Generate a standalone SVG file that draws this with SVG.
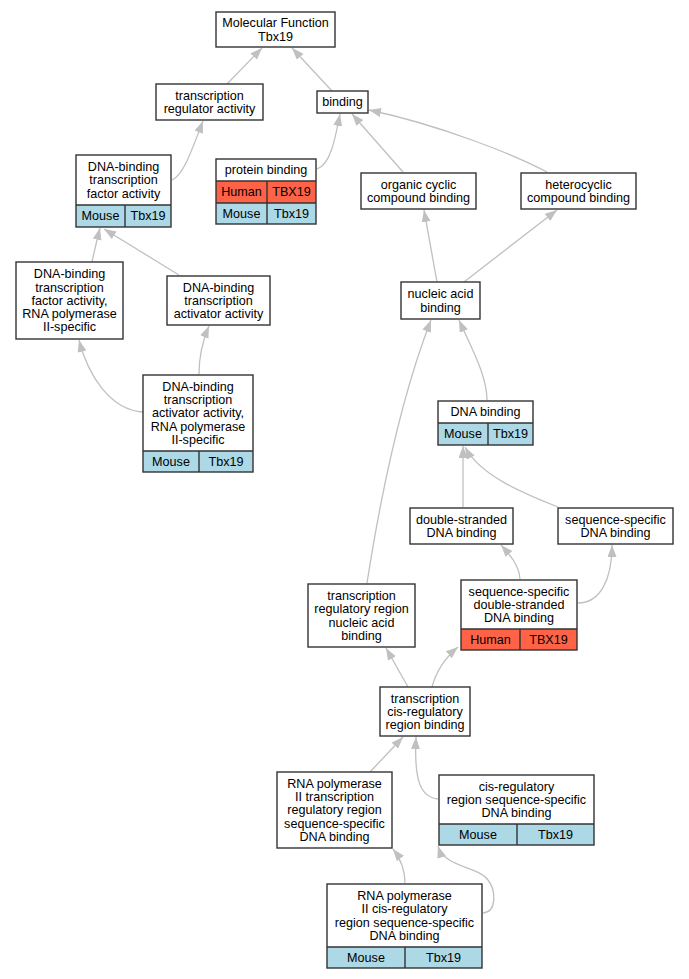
<svg xmlns="http://www.w3.org/2000/svg" width="689" height="979" viewBox="0 0 689 979">
<defs>
<style>
text{font-family:"Liberation Sans",Arial,sans-serif;font-size:12.6px;fill:#000;text-anchor:middle}
.b{fill:#fff;stroke:none}
.o{fill:none;stroke:#333;stroke-width:1.4}
.m{fill:#add8e6;stroke:none}
.h{fill:#ff6347;stroke:none}
.d{stroke:#333;stroke-width:1.4}
.e{fill:none;stroke:#c0c0c0;stroke-width:1.3;marker-end:url(#a)}
</style>
<marker id="a" markerUnits="userSpaceOnUse" markerWidth="13" markerHeight="10" refX="12" refY="4.5" orient="auto"><path d="M0,0 L12,4.5 L0,9 z" fill="#c0c0c0"/></marker>
</defs>
<rect width="689" height="979" fill="#fff"/>
<g id="edges">
<path class="e" d="M227,84 L262,48"/>
<path class="e" d="M332,91 L292,48"/>
<path class="e" d="M172,180 C183,175 190,155 203,121"/>
<path class="e" d="M317,169 C330,165 335,140 340,114"/>
<path class="e" d="M403,172 L352,114"/>
<path class="e" d="M547,172 C515,155 440,125 369,110"/>
<path class="e" d="M437,282 L424,210"/>
<path class="e" d="M464,282 L557,210"/>
<path class="e" d="M92,262 C94,252 97,240 100,228"/>
<path class="e" d="M179,275 L104,229"/>
<path class="e" d="M143,412 C110,410 88,375 79,340"/>
<path class="e" d="M199,374 C199,355 203,340 209,326"/>
<path class="e" d="M487,400 C487,375 470,345 459,320"/>
<path class="e" d="M367,583 C380,500 400,400 431,320"/>
<path class="e" d="M463,507 L463,446"/>
<path class="e" d="M558,507 C520,492 480,475 465,447"/>
<path class="e" d="M520,579 C519,565 510,555 501,545"/>
<path class="e" d="M578,603 C600,603 612,580 612,545"/>
<path class="e" d="M408,687 L386,648"/>
<path class="e" d="M432,687 C436,672 445,658 458,647"/>
<path class="e" d="M370,772 L403,737"/>
<path class="e" d="M438,799 C420,797 414,780 416,737"/>
<path class="e" d="M405,883 C405,870 400,858 393,849"/>
<path class="e" d="M483,913 C497,912 496,890 488,880 C478,866 445,868 438,846"/>
</g>
<g id="n1"><rect class="b" x="216" y="12" width="119" height="35"/><rect class="o" x="216" y="12" width="119" height="35"/><text x="275.5" y="27.2">Molecular Function</text><text x="275.5" y="40.5">Tbx19</text></g>
<g id="n2"><rect class="b" x="156" y="84" width="107" height="36"/><rect class="o" x="156" y="84" width="107" height="36"/><text x="209.5" y="99.7">transcription</text><text x="209.5" y="113">regulator activity</text></g>
<g id="n3"><rect class="b" x="317" y="91" width="51" height="22"/><rect class="o" x="317" y="91" width="51" height="22"/><text x="342.5" y="106.3">binding</text></g>
<g id="n4"><rect class="b" x="76" y="155" width="95" height="50"/><rect class="m" x="76" y="205" width="95" height="22"/><line class="d" x1="76" y1="205" x2="171" y2="205"/><line class="d" x1="125" y1="205" x2="125" y2="227"/><rect class="o" x="76" y="155" width="95" height="72"/><text x="123.5" y="171">DNA-binding</text><text x="123.5" y="184.3">transcription</text><text x="123.5" y="197.6">factor activity</text><text x="100.5" y="220.3">Mouse</text><text x="148" y="220.3">Tbx19</text></g>
<g id="n5"><rect class="b" x="216" y="159" width="100" height="22"/><rect class="h" x="216" y="181" width="100" height="22"/><rect class="m" x="216" y="203" width="100" height="21"/><line class="d" x1="216" y1="181" x2="316" y2="181"/><line class="d" x1="216" y1="203" x2="316" y2="203"/><line class="d" x1="267" y1="181" x2="267" y2="224"/><rect class="o" x="216" y="159" width="100" height="65"/><text x="266" y="174.3">protein binding</text><text x="241.5" y="196.3">Human</text><text x="291.5" y="196.3">TBX19</text><text x="241.5" y="217.8">Mouse</text><text x="291.5" y="217.8">Tbx19</text></g>
<g id="n6"><rect class="b" x="361" y="173" width="115" height="36"/><rect class="o" x="361" y="173" width="115" height="36"/><text x="418.5" y="188.7">organic cyclic</text><text x="418.5" y="202">compound binding</text></g>
<g id="n7"><rect class="b" x="521" y="173" width="115" height="36"/><rect class="o" x="521" y="173" width="115" height="36"/><text x="578.5" y="188.7">heterocyclic</text><text x="578.5" y="202">compound binding</text></g>
<g id="n8"><rect class="b" x="401" y="282" width="79" height="37"/><rect class="o" x="401" y="282" width="79" height="37"/><text x="440.5" y="298.2">nucleic acid</text><text x="440.5" y="311.5">binding</text></g>
<g id="n9"><rect class="b" x="16" y="262" width="107" height="77"/><rect class="o" x="16" y="262" width="107" height="77"/><text x="69.5" y="278.2">DNA-binding</text><text x="69.5" y="291.5">transcription</text><text x="69.5" y="304.8">factor activity,</text><text x="69.5" y="318.1">RNA polymerase</text><text x="69.5" y="331.4">II-specific</text></g>
<g id="n10"><rect class="b" x="167" y="276" width="103" height="49"/><rect class="o" x="167" y="276" width="103" height="49"/><text x="218.5" y="291.5">DNA-binding</text><text x="218.5" y="304.8">transcription</text><text x="218.5" y="318.1">activator activity</text></g>
<g id="n11"><rect class="b" x="143" y="375" width="110" height="76"/><rect class="m" x="143" y="451" width="110" height="21"/><line class="d" x1="143" y1="451" x2="253" y2="451"/><line class="d" x1="199" y1="451" x2="199" y2="472"/><rect class="o" x="143" y="375" width="110" height="97"/><text x="198" y="390.7">DNA-binding</text><text x="198" y="404">transcription</text><text x="198" y="417.3">activator activity,</text><text x="198" y="430.6">RNA polymerase</text><text x="198" y="443.9">II-specific</text><text x="171" y="465.8">Mouse</text><text x="226" y="465.8">Tbx19</text></g>
<g id="n12"><rect class="b" x="438" y="401" width="95" height="22"/><rect class="m" x="438" y="423" width="95" height="22"/><line class="d" x1="438" y1="423" x2="533" y2="423"/><line class="d" x1="488" y1="423" x2="488" y2="445"/><rect class="o" x="438" y="401" width="95" height="44"/><text x="485.5" y="416.3">DNA binding</text><text x="463" y="438.3">Mouse</text><text x="510.5" y="438.3">Tbx19</text></g>
<g id="n13"><rect class="b" x="410" y="508" width="103" height="36"/><rect class="o" x="410" y="508" width="103" height="36"/><text x="461.5" y="523.7">double-stranded</text><text x="461.5" y="537">DNA binding</text></g>
<g id="n14"><rect class="b" x="558" y="508" width="115" height="36"/><rect class="o" x="558" y="508" width="115" height="36"/><text x="615.5" y="523.7">sequence-specific</text><text x="615.5" y="537">DNA binding</text></g>
<g id="n15"><rect class="b" x="308" y="584" width="107" height="63"/><rect class="o" x="308" y="584" width="107" height="63"/><text x="361.5" y="599.9">transcription</text><text x="361.5" y="613.2">regulatory region</text><text x="361.5" y="626.5">nucleic acid</text><text x="361.5" y="639.8">binding</text></g>
<g id="n16"><rect class="b" x="461" y="580" width="116" height="49"/><rect class="h" x="461" y="629" width="116" height="21"/><line class="d" x1="461" y1="629" x2="577" y2="629"/><line class="d" x1="520" y1="629" x2="520" y2="650"/><rect class="o" x="461" y="580" width="116" height="70"/><text x="519" y="595.5">sequence-specific</text><text x="519" y="608.8">double-stranded</text><text x="519" y="622.1">DNA binding</text><text x="490.5" y="643.8">Human</text><text x="548.5" y="643.8">TBX19</text></g>
<g id="n17"><rect class="b" x="380" y="687" width="90" height="49"/><rect class="o" x="380" y="687" width="90" height="49"/><text x="425" y="702.5">transcription</text><text x="425" y="715.8">cis-regulatory</text><text x="425" y="729.1">region binding</text></g>
<g id="n18"><rect class="b" x="277" y="772" width="115" height="76"/><rect class="o" x="277" y="772" width="115" height="76"/><text x="334.5" y="787.7">RNA polymerase</text><text x="334.5" y="801">II transcription</text><text x="334.5" y="814.3">regulatory region</text><text x="334.5" y="827.6">sequence-specific</text><text x="334.5" y="840.9">DNA binding</text></g>
<g id="n19"><rect class="b" x="439" y="775" width="155" height="49"/><rect class="m" x="439" y="824" width="155" height="21"/><line class="d" x1="439" y1="824" x2="594" y2="824"/><line class="d" x1="517" y1="824" x2="517" y2="845"/><rect class="o" x="439" y="775" width="155" height="70"/><text x="516.5" y="790.5">cis-regulatory</text><text x="516.5" y="803.8">region sequence-specific</text><text x="516.5" y="817.1">DNA binding</text><text x="478" y="838.8">Mouse</text><text x="555.5" y="838.8">Tbx19</text></g>
<g id="n20"><rect class="b" x="327" y="884" width="155" height="63"/><rect class="m" x="327" y="947" width="155" height="21"/><line class="d" x1="327" y1="947" x2="482" y2="947"/><line class="d" x1="405" y1="947" x2="405" y2="968"/><rect class="o" x="327" y="884" width="155" height="84"/><text x="404.5" y="899.9">RNA polymerase</text><text x="404.5" y="913.2">II cis-regulatory</text><text x="404.5" y="926.5">region sequence-specific</text><text x="404.5" y="939.8">DNA binding</text><text x="366" y="961.8">Mouse</text><text x="443.5" y="961.8">Tbx19</text></g>
</svg>
